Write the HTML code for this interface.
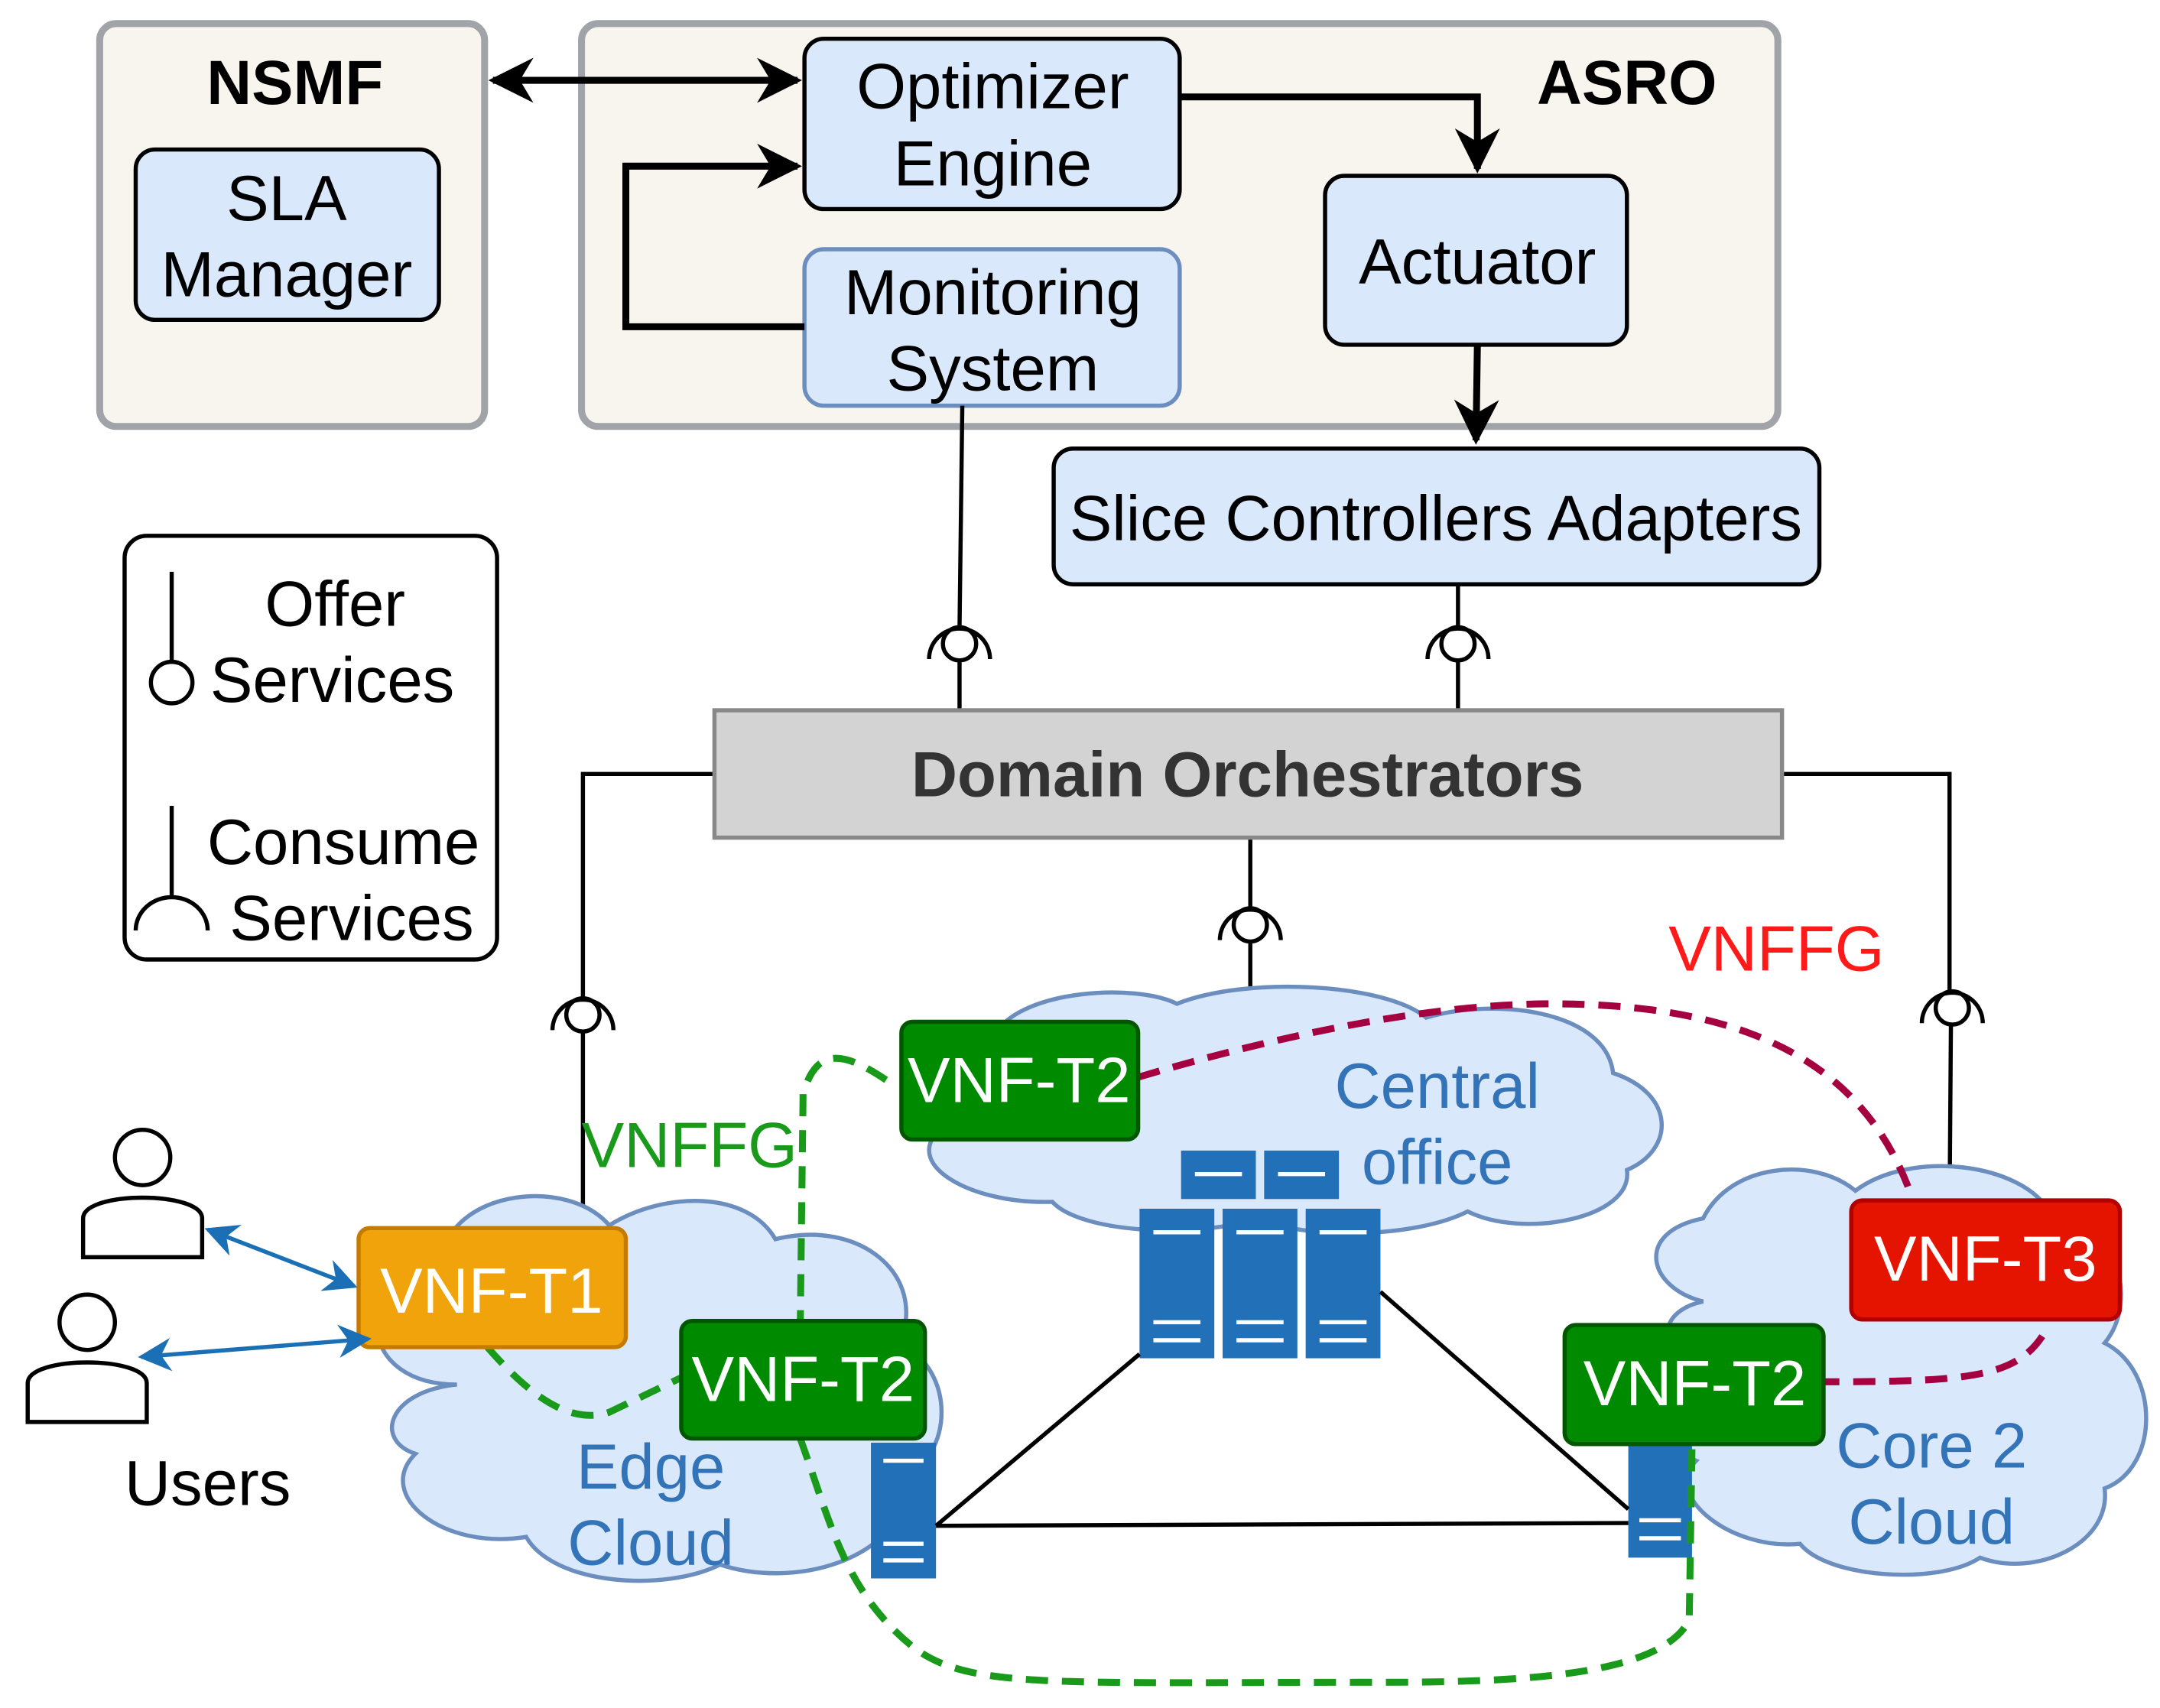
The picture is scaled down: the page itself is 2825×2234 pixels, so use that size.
<!DOCTYPE html>
<html><head><meta charset="utf-8"><style>
html,body{margin:0;padding:0;background:#fff;}
svg{display:block;}
text{font-family:"Liberation Sans",sans-serif;}
</style></head><body>
<svg width="2825" height="2234" viewBox="0 0 1560 1233.6" preserveAspectRatio="none" xmlns="http://www.w3.org/2000/svg">
<defs>
<marker id="ah" viewBox="0 0 10 10" refX="9" refY="5" markerWidth="6.5" markerHeight="6.5" orient="auto-start-reverse"><path d="M0,0 L10,5 L0,10 L3,5 z" fill="#000"/></marker>
<marker id="bh" viewBox="0 0 10 10" refX="9" refY="5" markerWidth="8" markerHeight="8" orient="auto-start-reverse"><path d="M0,0 L10,5 L0,10 L3,5 z" fill="#1a6fb5"/></marker>
</defs>
<rect width="1560" height="1234" fill="#fff"/>
<!-- NSMF -->
<rect x="72" y="17" width="278" height="291" rx="12" fill="#f7f5ee" stroke="#a0a4a8" stroke-width="5"/>
<text x="213" y="75" font-size="45" font-weight="bold" text-anchor="middle">NSMF</text>
<rect x="98" y="108" width="219" height="123" rx="14" fill="#dae8fc" stroke="#000" stroke-width="3"/>
<text x="207" y="159" font-size="46" text-anchor="middle">SLA</text>
<text x="207" y="214" font-size="46" text-anchor="middle">Manager</text>
<!-- ASRO -->
<rect x="420" y="17" width="864" height="291" rx="12" fill="#f7f5ee" stroke="#a0a4a8" stroke-width="5"/>
<text x="1175" y="75" font-size="45" font-weight="bold" text-anchor="middle">ASRO</text>
<rect x="581" y="28" width="271" height="123" rx="14" fill="#dae8fc" stroke="#000" stroke-width="3"/>
<text x="717" y="78" font-size="46" text-anchor="middle">Optimizer</text>
<text x="717" y="134" font-size="46" text-anchor="middle">Engine</text>
<rect x="581" y="180" width="271" height="113" rx="14" fill="#dae8fc" stroke="#6c8ebf" stroke-width="3"/>
<text x="717" y="227" font-size="46" text-anchor="middle">Monitoring</text>
<text x="717" y="282" font-size="46" text-anchor="middle">System</text>
<rect x="957" y="127" width="218" height="122" rx="14" fill="#dae8fc" stroke="#000" stroke-width="3"/>
<text x="1067" y="205" font-size="46" text-anchor="middle">Actuator</text>
<rect x="761" y="324" width="553" height="98" rx="14" fill="#dae8fc" stroke="#000" stroke-width="3"/>
<text x="1037" y="390" font-size="46" text-anchor="middle">Slice Controllers Adapters</text>
<!-- arrows top -->
<g stroke="#000" stroke-width="5" fill="none">
<line x1="356" y1="58" x2="576" y2="58" marker-start="url(#ah)" marker-end="url(#ah)"/>
<polyline points="581,236 452,236 452,120 576,120" marker-end="url(#ah)"/>
<polyline points="852,70 1067,70 1067,122" marker-end="url(#ah)"/>
<polyline points="1067,249 1066,318" marker-end="url(#ah)"/>
</g>
<!-- sockets & lines -->
<g stroke="#000" stroke-width="3" fill="none">
<line x1="695" y1="293" x2="693" y2="453"/>
<circle cx="693" cy="465" r="12"/><path d="M671,476 A22,22 0 0 1 715,476"/>
<line x1="693" y1="477" x2="693" y2="513"/>
<line x1="1053" y1="422" x2="1053" y2="453"/>
<circle cx="1053" cy="465" r="12"/><path d="M1031,476 A22,22 0 0 1 1075,476"/>
<line x1="1053" y1="477" x2="1053" y2="513"/>
<polyline points="516,559 421,559 421,721"/>
<circle cx="421" cy="733" r="12"/><path d="M399,744 A22,22 0 0 1 443,744"/>
<line x1="421" y1="745" x2="421" y2="875"/>
<line x1="903" y1="605" x2="903" y2="656"/>
<circle cx="903" cy="668" r="12"/><path d="M881,679 A22,22 0 0 1 925,679"/>
<line x1="903" y1="680" x2="903" y2="718"/>
<polyline points="1287,559 1408,559 1408,716"/>
<circle cx="1410" cy="728" r="12"/><path d="M1388,739 A22,22 0 0 1 1432,739"/>
<line x1="1409" y1="740" x2="1408" y2="875"/>
</g>
<rect x="516" y="513" width="771" height="92" fill="#d3d3d3" stroke="#888" stroke-width="3"/>
<text x="901" y="575" font-size="46" font-weight="bold" fill="#333" text-anchor="middle">Domain Orchestrators</text>
<!-- legend -->
<rect x="90" y="387" width="269" height="306" rx="16" fill="#fff" stroke="#000" stroke-width="3"/>
<g stroke="#000" stroke-width="3" fill="none">
<line x1="124" y1="413" x2="124" y2="478"/><circle cx="124" cy="493" r="15"/>
<line x1="124" y1="582" x2="124" y2="648"/><path d="M98,672 A26,24 0 0 1 150,672"/>
</g>
<text x="242" y="452" font-size="46" text-anchor="middle">Offer</text>
<text x="240" y="507" font-size="46" text-anchor="middle">Services</text>
<text x="248" y="624" font-size="46" text-anchor="middle">Consume</text>
<text x="254" y="679" font-size="46" text-anchor="middle">Services</text>
<!-- clouds -->
<g fill="#dae8fc" stroke="#6c8ebf" stroke-width="3">
<path d="M330,1000 C260,1000 250,930 320,905 C330,860 410,850 440,885 C480,860 540,860 560,895 C620,880 670,920 650,970 C690,990 690,1050 650,1070 C660,1120 580,1150 520,1130 C480,1150 400,1145 380,1110 C320,1120 270,1080 300,1050 C270,1040 280,1005 330,1000 Z"/>
<path d="M700,800 C650,790 660,750 720,745 C740,715 820,710 850,725 C900,705 1000,710 1030,735 C1080,720 1160,730 1165,775 C1210,790 1210,830 1175,845 C1180,880 1100,895 1060,875 C1020,895 940,895 910,880 C860,895 780,890 760,868 C700,870 650,840 680,815 C670,810 680,802 700,800 Z"/>
<path d="M1230,940 C1190,930 1180,890 1230,880 C1250,840 1310,835 1340,860 C1380,830 1460,840 1480,875 C1530,880 1545,940 1520,970 C1560,990 1560,1060 1520,1075 C1525,1115 1470,1140 1430,1125 C1400,1145 1320,1140 1300,1115 C1250,1120 1200,1080 1225,1055 C1190,1040 1185,990 1215,980 C1195,965 1205,945 1230,940 Z"/>
</g>
<g font-size="46" fill="#3374b8" text-anchor="middle">
<text x="470" y="1075">Edge</text><text x="470" y="1130">Cloud</text>
<text x="1038" y="800">Central</text><text x="1038" y="855">office</text>
<text x="1395" y="1060">Core 2</text><text x="1395" y="1115">Cloud</text>
</g>
<!-- servers -->
<g fill="#2270b8">
<rect x="853" y="831" width="54" height="35"/><rect x="913" y="831" width="54" height="35"/>
<rect x="823" y="873" width="54" height="108"/><rect x="883" y="873" width="54" height="108"/><rect x="943" y="873" width="54" height="108"/>
<rect x="629" y="1042" width="47" height="98"/>
<rect x="1176" y="1042" width="46" height="83"/>
</g>
<g stroke="#fff" stroke-width="3">
<line x1="863" y1="848" x2="897" y2="848"/><line x1="923" y1="848" x2="957" y2="848"/>
<line x1="833" y1="890" x2="867" y2="890"/><line x1="833" y1="955" x2="867" y2="955"/><line x1="833" y1="968" x2="867" y2="968"/>
<line x1="893" y1="890" x2="927" y2="890"/><line x1="893" y1="955" x2="927" y2="955"/><line x1="893" y1="968" x2="927" y2="968"/>
<line x1="953" y1="890" x2="987" y2="890"/><line x1="953" y1="955" x2="987" y2="955"/><line x1="953" y1="968" x2="987" y2="968"/>
<line x1="638" y1="1055" x2="667" y2="1055"/><line x1="638" y1="1115" x2="667" y2="1115"/><line x1="638" y1="1127" x2="667" y2="1127"/>
<line x1="1184" y1="1098" x2="1214" y2="1098"/><line x1="1184" y1="1111" x2="1214" y2="1111"/>
</g>
<g stroke="#000" stroke-width="3">
<line x1="823" y1="978" x2="676" y2="1102"/><line x1="676" y1="1102" x2="1176" y2="1100"/><line x1="997" y1="933" x2="1176" y2="1090"/>
</g>
<!-- dashed paths -->
<g fill="none" stroke-width="5" stroke-dasharray="16,10">
<path d="M822,778 C950,740 1050,725 1120,725 C1250,725 1340,760 1378,857" stroke="#a50040"/>
<path d="M1475,965 C1455,995 1420,998 1317,998" stroke="#a50040"/>
<path d="M640,780 C610,760 590,755 580,790 L578,955" stroke="#1a9a1a"/>
<path d="M352,973 C380,1005 410,1030 440,1020 L492,995" stroke="#1a9a1a"/>
<path d="M578,1039 C600,1100 610,1150 660,1190 C700,1220 760,1215 1000,1215 C1100,1215 1200,1210 1220,1170 L1222,1045" stroke="#1a9a1a"/>
</g>
<text x="1283" y="701" font-size="46" fill="#ff1a1a" text-anchor="middle">VNFFG</text>
<text x="498" y="843" font-size="46" fill="#1a9a1a" text-anchor="middle">VNFFG</text>
<!-- VNFs -->
<rect x="259" y="887" width="193" height="86" rx="8" fill="#f0a30a" stroke="#c57a00" stroke-width="3"/>
<text x="355" y="948" font-size="46" fill="#fff" text-anchor="middle">VNF-T1</text>
<rect x="492" y="954" width="176" height="85" rx="8" fill="#008a00" stroke="#005700" stroke-width="3"/>
<text x="580" y="1012" font-size="46" fill="#fff" text-anchor="middle">VNF-T2</text>
<rect x="651" y="738" width="171" height="85" rx="8" fill="#008a00" stroke="#005700" stroke-width="3"/>
<text x="736" y="796" font-size="46" fill="#fff" text-anchor="middle">VNF-T2</text>
<rect x="1130" y="957" width="187" height="86" rx="8" fill="#008a00" stroke="#005700" stroke-width="3"/>
<text x="1224" y="1015" font-size="46" fill="#fff" text-anchor="middle">VNF-T2</text>
<rect x="1337" y="867" width="194" height="86" rx="8" fill="#e51400" stroke="#b20000" stroke-width="3"/>
<text x="1434" y="925" font-size="46" fill="#fff" text-anchor="middle">VNF-T3</text>
<!-- users -->
<g fill="#fff" stroke="#000" stroke-width="3">
<circle cx="103" cy="836" r="20"/><path d="M60,908 L60,880 C60,860 146,860 146,880 L146,908 Z"/>
<circle cx="63" cy="955" r="20"/><path d="M20,1027 L20,999 C20,979 106,979 106,999 L106,1027 Z"/>
</g>
<text x="150" y="1087" font-size="46" text-anchor="middle">Users</text>
<g stroke="#1a6fb5" stroke-width="3">
<line x1="150" y1="888" x2="256" y2="929" marker-start="url(#bh)" marker-end="url(#bh)"/>
<line x1="102" y1="980" x2="266" y2="967" marker-start="url(#bh)" marker-end="url(#bh)"/>
</g>
</svg>
</body></html>
